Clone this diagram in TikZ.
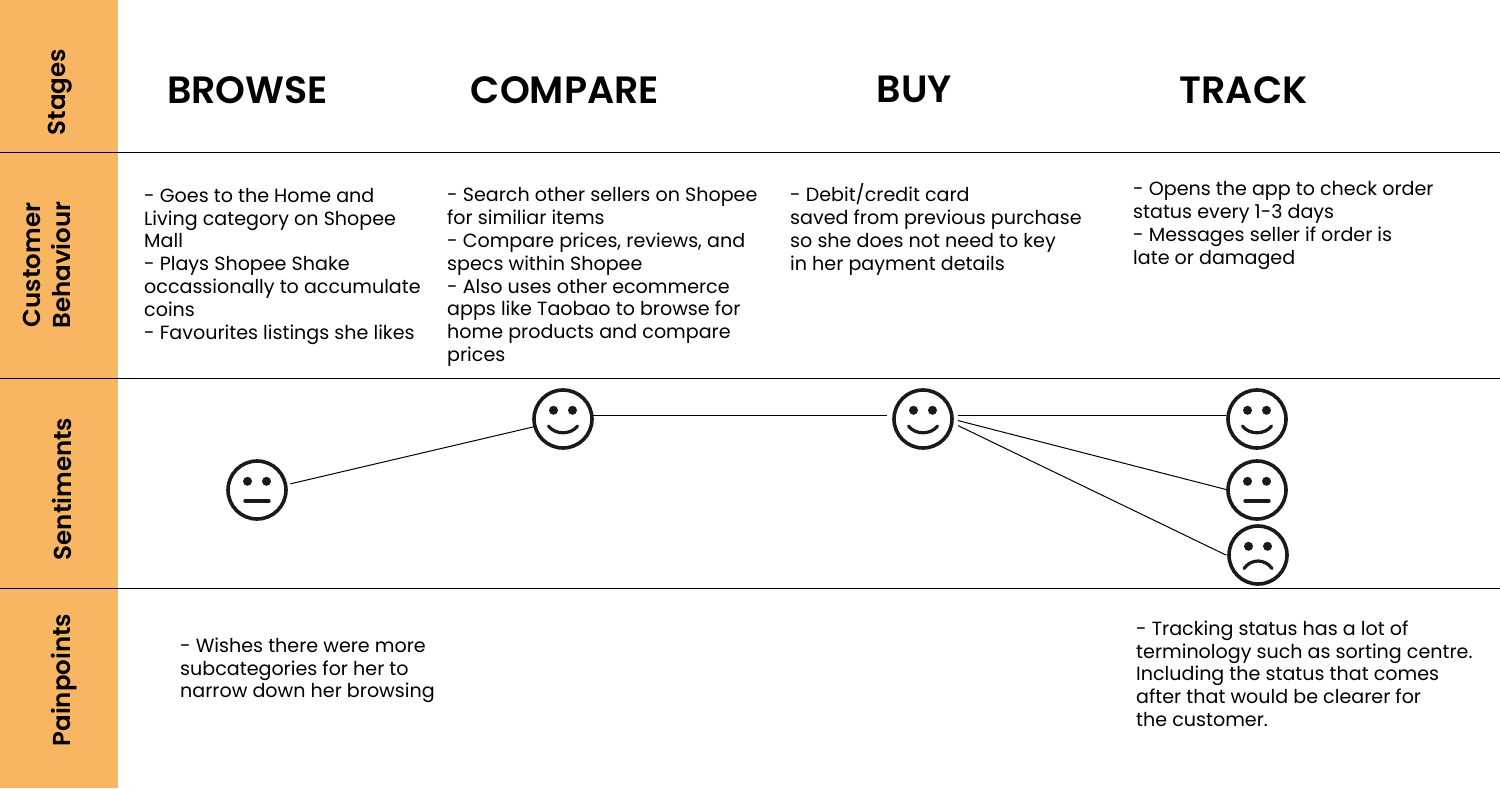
\documentclass[tikz,border=0pt]{standalone}
\usepackage{fontspec}
\setmainfont{Poppins}[BoldFont={Poppins SemiBold}]
\definecolor{band}{HTML}{F9B662}
\definecolor{ink}{HTML}{1A1A1A}
\newcommand{\facebase}[1]{%
  \fill[ink] ($(#1)+(-9.5,-8.7)$) circle[radius=4.5pt];
  \fill[ink] ($(#1)+(9.5,-8.7)$) circle[radius=4.5pt];}
\newcommand{\happy}[1]{\facebase{#1}
  \draw[mouth] ($(#1)+(-14.5,7)$) .. controls ($(#1)+(-8,16)$) and ($(#1)+(8,16)$) .. ($(#1)+(14.5,7)$);}
\newcommand{\neutral}[1]{\facebase{#1}
  \draw[mouth] ($(#1)+(-12,11)$) -- ($(#1)+(12,11)$);}
\newcommand{\sad}[1]{\facebase{#1}
  \draw[mouth] ($(#1)+(-14,13.5)$) .. controls ($(#1)+(-7,3.5)$) and ($(#1)+(7,3.5)$) .. ($(#1)+(14,13.5)$);}
\usetikzlibrary{calc}
\tikzset{
  x=1pt,y=-1pt,
  face/.style={circle,draw=ink,line width=3.6pt,minimum size=58pt,inner sep=0pt,outer sep=0pt},
  mouth/.style={draw=ink,line width=3.2pt,line cap=round},
  rule/.style={draw=black,line width=0.9pt},
  link/.style={draw=black,line width=1pt},
  stagehead/.style={font=\fontsize{38}{40}\selectfont\bfseries,text=black,inner sep=0pt},
  rowhead/.style={font=\fontsize{24.5}{30}\selectfont\bfseries,text=black,inner sep=0pt,rotate=90,align=center},
  body/.style={font=\fontsize{19.1}{22.8}\selectfont,text=black,inner sep=0pt,align=left,anchor=north west},
}
\begin{document}
\begin{tikzpicture}
\useasboundingbox (0,0) rectangle (1500,788);
\fill[white] (0,0) rectangle (1500,788);
\fill[band] (0,0) rectangle (118,788);
\draw[rule] (0,152) -- (1500,152);
\draw[rule] (0,378.5) -- (1500,378.5);
\draw[rule] (0,588.5) -- (1500,588.5);

\node[rowhead] (rstages) at (60,92) {Stages};
\node[rowhead] (rbehav) at (47,265) {Customer\\Behaviour};
\node[rowhead] (rsent) at (62,489) {Sentiments};
\node[rowhead] (rpain) at (64,680) {Painpoints};

\node[stagehead] (browse) at (247.5,90) {BROWSE};
\node[stagehead] (compare) at (565,90) {COMPARE};
\node[stagehead] (buy) at (914.5,89) {BUY};
\node[stagehead] (track) at (1243.5,90) {TRACK};

\node[body] (b1) at (144,188) {- Goes to the Home and\\Living category on Shopee\\Mall\\- Plays Shopee Shake\\occassionally to accumulate\\coins\\- Favourites listings she likes};
\node[body] (b2) at (447,187.5) {- Search other sellers on Shopee\\for similiar items\\- Compare prices, reviews, and\\specs within Shopee\\- Also uses other ecommerce\\apps like Taobao to browse for\\home products and compare\\prices};
\node[body] (b3) at (790,183.5) {- Debit/credit card\\saved from previous purchase\\so she does not need to key\\in her payment details};
\node[body] (b4) at (1133,181.5) {- Opens the app to check order\\status every 1-3 days\\- Messages seller if order is\\late or damaged};
\node[body] (p1) at (180,637.5) {- Wishes there were more\\subcategories for her to\\narrow down her browsing};
\node[body] (p4) at (1136,620.5) {- Tracking status has a lot of\\terminology such as sorting centre.\\Including the status that comes\\after that would be clearer for\\the customer.};

\node[face] (n1) at (257,490) {};
\node[face] (c1) at (563,419) {};
\node[face] (b5) at (923,419) {};
\node[face] (t1) at (1257,419) {};
\node[face] (t2) at (1257,490) {};
\node[face] (t3) at (1258,555) {};
\neutral{n1}
\happy{c1}
\happy{b5}
\happy{t1}
\neutral{t2}
\sad{t3}

\draw[link,shorten <=5pt] (n1.10) -- (c1.195);
\draw[link,shorten >=7pt] (c1.7) -- (b5.173);
\draw[link,shorten <=6pt,shorten >=2pt] (b5.7) -- (t1.173);
\draw[link,shorten <=6pt,shorten >=2pt] (b5.0) -- (t2.180);
\draw[link,shorten <=7pt,shorten >=3pt] (b5.-7) -- (t3.183);
\end{tikzpicture}
\end{document}
